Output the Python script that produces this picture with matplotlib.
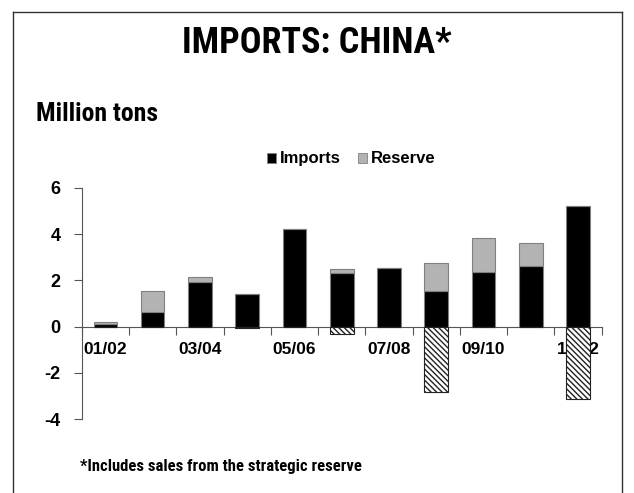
import numpy as np
import matplotlib.pyplot as plt
import matplotlib.patches as patches
from matplotlib.lines import Line2D

# Marketing years and volumes (million tons)
years = ['01/02', '02/03', '03/04', '04/05', '05/06', '06/07', '07/08', '08/09', '09/10', '10/11', '11/12']
imports = [0.10, 0.65, 1.91, 1.41, 4.22, 2.30, 2.55, 1.53, 2.37, 2.62, 5.22]
reserve = [0.12, 0.90, 0.22, 0.00, 0.00, 0.17, 0.00, 1.23, 1.44, 0.99, 0.00]
reserve_sales = [0.00, 0.00, 0.00, -0.05, 0.00, -0.33, 0.00, -2.83, 0.00, 0.00, -3.14]
yticks = [-4, -2, 0, 2, 4, 6]

narrow = ['Liberation Sans Narrow', 'Arial Narrow', 'Roboto Condensed', 'Archivo Narrow', 'Liberation Sans']
plt.rcParams['font.family'] = ['Liberation Sans', 'DejaVu Sans']
plt.rcParams['hatch.linewidth'] = 1.0

fig = plt.figure(figsize=(6.34, 4.93), dpi=100)
W, H = 634, 493

ax = fig.add_axes([81.7 / W, 1 - 419.3 / H, 520 / W, 231.6 / H])

x = np.arange(len(years))
w = 0.5
ax.bar(x, imports, w, color='black', edgecolor='#808080', lw=0.8, zorder=3)
ax.bar(x, reserve, w, bottom=imports, color='#b3b3b3', edgecolor='#808080', lw=0.8, zorder=3)
ax.bar(x, reserve_sales, w, color='white', edgecolor='#222222', hatch='\\' * 6, lw=0.8, zorder=3)

ax.set_xlim(-0.5, len(years) - 0.5)
ax.set_ylim(-4, 6)
ax.set_yticks(yticks)
ax.set_yticklabels([str(v) for v in yticks], fontsize=13, fontweight='bold')
ax.tick_params(axis='y', direction='out', length=5.5, width=0.8, color='#555555', pad=9.5)

# category boundary ticks on the zero line, labels on every other year
ax.spines['bottom'].set_position(('data', 0))
ax.set_xticks(np.arange(-0.5, len(years), 1.0))
ax.set_xticklabels([])
ax.tick_params(axis='x', which='major', direction='out', length=5.5, width=0.8, color='#555555')
ax.set_xticks(x[::2], minor=True)
ax.set_xticklabels(years[::2], minor=True, fontsize=12.5, fontweight='bold')
ax.tick_params(axis='x', which='minor', length=0, pad=11)

for s in ['top', 'right']:
    ax.spines[s].set_visible(False)
for s in ['left', 'bottom']:
    ax.spines[s].set_color('#555555')
    ax.spines[s].set_linewidth(0.8)

handles = [patches.Patch(facecolor='black', edgecolor='#808080', lw=0.6),
           patches.Patch(facecolor='#b3b3b3', edgecolor='#808080', lw=0.6)]
fig.legend(handles, ['Imports', 'Reserve'], loc='center', bbox_to_anchor=(351 / W, 1 - 159 / H),
           ncol=2, frameon=False, handlelength=0.55, handleheight=0.55, handletextpad=0.22,
           columnspacing=1.05, prop={'weight': 'bold', 'size': 12})

fig.text(317 / W, 1 - 43 / H, 'IMPORTS: CHINA*', ha='center', va='center',
         fontsize=26, fontweight='bold', family=narrow)
fig.text(36 / W, 1 - 114 / H, 'Million tons', ha='left', va='center',
         fontsize=18.5, fontweight='bold', family=narrow)
fig.text(80 / W, 1 - 466 / H, '*Includes sales from the strategic reserve', ha='left', va='center',
         fontsize=12, fontweight='bold', family=narrow)

# outer frame, open at the bottom
frame_kw = dict(color='#333333', lw=1.0, transform=fig.transFigure)
fig.add_artist(Line2D([13 / W, 13 / W], [0, 1 - 12 / H], **frame_kw))
fig.add_artist(Line2D([622 / W, 622 / W], [0, 1 - 12 / H], **frame_kw))
fig.add_artist(Line2D([13 / W, 622 / W], [1 - 12 / H, 1 - 12 / H], **frame_kw))

fig.savefig('out.png', dpi=100)
